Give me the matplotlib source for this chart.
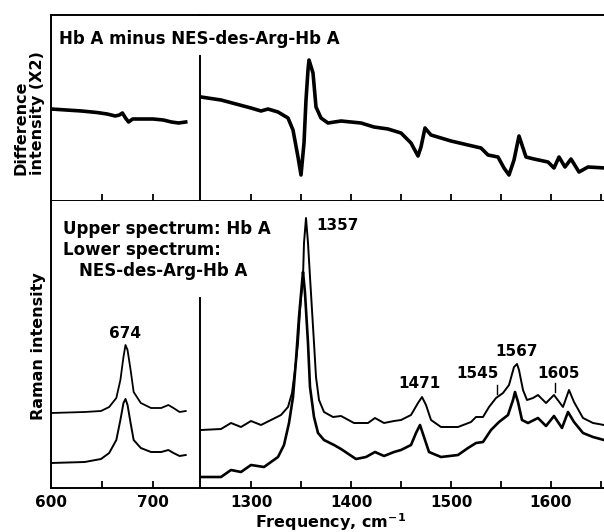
import matplotlib
matplotlib.use('Agg')
import matplotlib.pyplot as plt
from matplotlib.ticker import FixedLocator

plt.rcParams['font.family'] = ['DejaVu Sans']
plt.rcParams['font.weight'] = 'bold'

# difference spectrum (Hb A minus NES-des-Arg-Hb A), x2
diff_lo_x = [600, 615, 630, 645, 655, 663, 667, 670, 673, 676, 680, 690, 700, 710, 718, 725, 732]
diff_lo_y = [92, 91, 90, 88.5, 87, 85, 86, 88, 83, 79, 82, 82, 82, 81, 79, 78, 79]
diff_hi_x = [1250, 1270, 1300, 1310, 1317, 1327, 1337, 1342, 1347, 1350, 1353, 1355, 1357, 1358,
             1362, 1365, 1370, 1377, 1390, 1410, 1423, 1437, 1450, 1460, 1467, 1470, 1474, 1480,
             1500, 1517, 1530, 1537, 1547, 1553, 1558, 1563, 1568, 1575, 1583, 1597, 1603, 1608,
             1614, 1620, 1628, 1637, 1654]
diff_hi_y = [104, 101, 93, 90, 92, 89, 83, 71, 44, 26, 58, 101, 131, 141,
             128, 94, 83, 78, 80, 78, 74, 72, 68, 58, 45, 54, 73, 66,
             60, 56, 53, 46, 44, 33, 26, 41, 65, 44, 42, 39, 33, 44,
             34, 42, 29, 34, 33]

# Raman spectra, low-frequency region
ram_lo_x = [600, 633, 649, 657, 664, 668, 671, 673, 675, 678, 681, 688, 698, 708, 715, 720, 726, 732]
hba_lo = [75, 76, 77, 81, 90, 108, 131, 143, 138, 118, 96, 85, 80, 80, 83, 80, 76, 77]
nes_lo = [25, 26, 29, 35, 48, 68, 85, 89, 83, 65, 48, 40, 36, 36, 38, 35, 32, 33]

# Raman spectra, high-frequency region
hba_hi_x = [1250, 1270, 1280, 1290, 1300, 1310, 1320, 1330, 1337, 1341, 1344, 1347, 1349, 1352,
            1353, 1355, 1357, 1359, 1361, 1363, 1365, 1368, 1373, 1382, 1390, 1403, 1417, 1424,
            1433, 1443, 1450, 1460, 1467, 1471, 1475, 1480, 1490, 1507, 1520, 1525, 1532, 1538,
            1545, 1552, 1558, 1563, 1566, 1568, 1572, 1576, 1582, 1587, 1595, 1603, 1612, 1618,
            1623, 1632, 1642, 1653]
hba_hi = [58, 59, 65, 61, 67, 63, 68, 73, 81, 95, 118, 145, 178, 211,
          245, 270, 245, 211, 178, 145, 111, 88, 76, 71, 72, 65, 65, 70,
          65, 67, 68, 73, 85, 91, 83, 68, 61, 61, 66, 71, 71, 81,
          90, 95, 103, 121, 124, 118, 98, 88, 90, 93, 85, 93, 81, 98,
          86, 70, 65, 63]
nes_hi_x = [1250, 1270, 1280, 1290, 1300, 1313, 1320, 1327, 1333, 1338, 1342, 1345, 1348, 1351,
            1352, 1354, 1357, 1359, 1363, 1367, 1373, 1383, 1390, 1405, 1415, 1424, 1433, 1443,
            1450, 1460, 1465, 1469, 1473, 1478, 1490, 1507, 1517, 1525, 1532, 1540, 1548, 1557,
            1562, 1564, 1567, 1571, 1577, 1587, 1595, 1603, 1611, 1617, 1623, 1632, 1642, 1653]
nes_hi = [11, 11, 18, 16, 23, 21, 26, 31, 43, 65, 91, 128, 171, 205,
          216, 195, 145, 101, 71, 55, 48, 43, 39, 29, 31, 36, 32, 36,
          38, 43, 55, 63, 51, 36, 31, 33, 40, 45, 46, 58, 66, 73,
          88, 96, 86, 68, 65, 70, 62, 72, 60, 76, 66, 55, 51, 48]

peak_labels = ['1357', '1471', '1545', '1567', '1605']
peak_pos = [1365, 1468, 1527, 1565.5, 1608]
peak_h = [262, 104, 115, 136, 115]

W, H = 604, 532


def box(x0, y0, x1, y1):
    return [x0 / W, 1 - y1 / H, (x1 - x0) / W, (y1 - y0) / H]


fig = plt.figure(figsize=(W / 100, H / 100), dpi=100)
ax_tl = fig.add_axes(box(51, 15, 200, 201))
ax_tr = fig.add_axes(box(200, 15, 604, 201))
ax_bl = fig.add_axes(box(51, 201, 200, 488))
ax_br = fig.add_axes(box(200, 201, 604, 488))

for ax in (ax_tl, ax_bl):
    ax.set_xlim(600, 746)
for ax in (ax_tr, ax_br):
    ax.set_xlim(1249, 1653)
for ax in (ax_tl, ax_tr):
    ax.set_ylim(0, 186)
for ax in (ax_bl, ax_br):
    ax.set_ylim(0, 287)

for ax in (ax_tl, ax_tr, ax_bl, ax_br):
    ax.set_yticks([])
    ax.spines['right'].set_visible(False)
    for s in ax.spines.values():
        s.set_linewidth(1.4)
    ax.tick_params(axis='x', which='both', direction='in', length=5, width=1.3,
                   labelsize=11, pad=5)
for ax in (ax_tr, ax_br):
    ax.spines['left'].set_visible(False)
for ax in (ax_bl, ax_br):
    ax.spines['top'].set_visible(False)

ax_tl.xaxis.set_major_locator(FixedLocator([650, 700]))
ax_tl.tick_params(labelbottom=False)
ax_tr.xaxis.set_major_locator(FixedLocator([1300, 1350, 1400, 1450, 1500, 1550, 1600, 1650]))
ax_tr.tick_params(labelbottom=False)
ax_bl.xaxis.set_major_locator(FixedLocator([600, 700]))
ax_bl.xaxis.set_minor_locator(FixedLocator([650]))
ax_br.xaxis.set_major_locator(FixedLocator([1300, 1400, 1500, 1600]))
ax_br.xaxis.set_minor_locator(FixedLocator([1350, 1450, 1550, 1650]))
for ax in (ax_bl, ax_br):
    for lab in ax.get_xticklabels():
        lab.set_fontweight('bold')

# segment dividers
ax_tr.axvline(1249, ymin=0, ymax=0.78, color='black', lw=1.4, clip_on=False)
ax_br.axvline(1249, ymin=0, ymax=0.662, color='black', lw=1.4, clip_on=False)

ax_tl.plot(diff_lo_x, diff_lo_y, color='black', lw=2.6)
ax_tr.plot(diff_hi_x, diff_hi_y, color='black', lw=2.6)
ax_bl.plot(ram_lo_x, hba_lo, color='black', lw=1.3)
ax_bl.plot(ram_lo_x, nes_lo, color='black', lw=1.4)
ax_br.plot(hba_hi_x, hba_hi, color='black', lw=1.4)
ax_br.plot(nes_hi_x, nes_hi, color='black', lw=1.9)

ax_bl.text(672.5, 155, '674', ha='center', va='center', fontsize=11, fontweight='bold')
for lab, px, ph in zip(peak_labels, peak_pos, peak_h):
    ha = 'left' if lab == '1357' else 'center'
    ax_br.text(px, ph, lab, ha=ha, va='center', fontsize=11, fontweight='bold')
# small marker ticks for shoulder / weak bands
ax_br.plot([1546, 1546], [94, 103], color='black', lw=1.0)
ax_br.plot([1604, 1604], [96, 105], color='black', lw=1.0)


def ftext(x, y, s, **kw):
    fig.text(x / W, 1 - y / H, s, fontweight='bold', **kw)


ftext(59, 39, 'Hb A minus NES-des-Arg-Hb A', ha='left', va='center', fontsize=12)
ftext(63, 229, 'Upper spectrum: Hb A', ha='left', va='center', fontsize=12)
ftext(63, 250, 'Lower spectrum:', ha='left', va='center', fontsize=12)
ftext(79, 271, 'NES-des-Arg-Hb A', ha='left', va='center', fontsize=12)
ftext(29, 175, 'Difference\nintensity (X2)', ha='center', va='bottom', rotation=90,
      multialignment='left', fontsize=11.5, linespacing=1.1)
ftext(39, 346, 'Raman intensity', ha='center', va='center', rotation=90, fontsize=11.5)
ftext(331, 522, 'Frequency, cm$^{\\mathbf{-1}}$', ha='center', va='center', fontsize=11.5)

fig.savefig('out.png', dpi=100)
